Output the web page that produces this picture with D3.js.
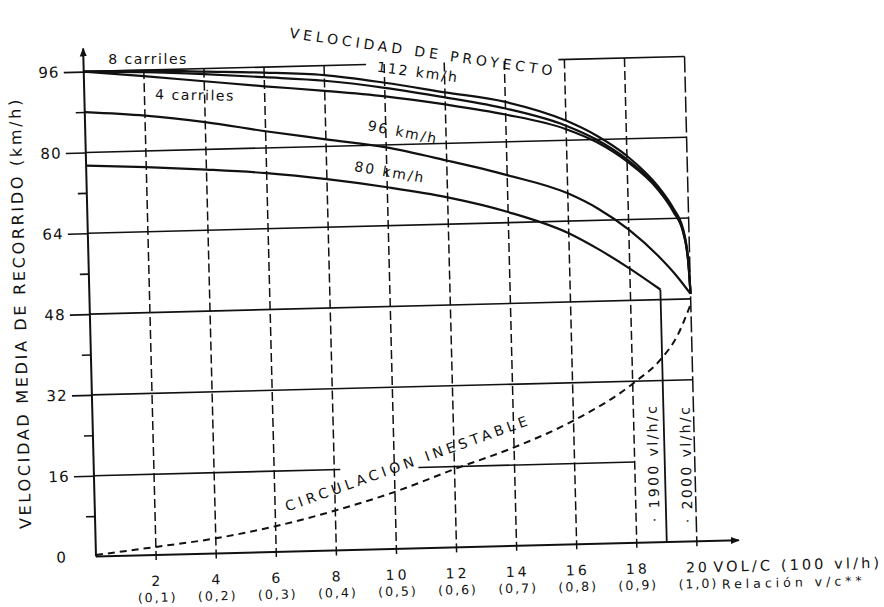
<!DOCTYPE html>
<html><head><meta charset="utf-8">
<script src="https://cdn.jsdelivr.net/npm/d3@7"></script>
<style>
body{margin:0;background:#fff}
svg{display:block;background:#fff}
text{font-family:"DejaVu Sans",sans-serif;fill:#111}
</style>
</head><body>
<svg id="c" width="884" height="607"></svg>
<script>
// ---------- DATA ----------
const xTicks = [2,4,6,8,10,12,14,16,18,20];
const xSubLabels = ["(0,1)","(0,2)","(0,3)","(0,4)","(0,5)","(0,6)","(0,7)","(0,8)","(0,9)","(1,0)"];
const yTicks = [0,16,32,48,64,80,96];
const yMinorTicks = [8,24,40,56,72,88];

// 112 km/h curves (8, 6, 4 carriles)
const x112 = [0,2,4,6,8,10,12,14,16,17,18,19,19.5,19.8,19.95,20];
const v112_8 = [96,95.9,95.4,94.9,94.1,92.3,90.1,87.9,83.9,80.8,76.6,70.5,66.0,62.0,56.0,49];
const v112_6 = [96,95.6,94.9,94.0,93.0,91.3,89.1,86.6,82.9,80.0,75.9,70.1,65.6,61.6,55.5,49];
const v112_4 = [96,94.8,93.5,92.2,91.0,89.6,87.7,85.4,82.2,79.5,75.5,69.8,65.3,61.3,55.3,49];
// 96 km/h
const x96 = [0,2,4,6,8,10,12,14,16,17,18,19,19.5,20];
const v96 = [88,87,85.4,83.3,81.4,79.5,76.6,73.4,69.5,66.3,62.0,56.4,53.0,49];
// 80 km/h
const x80 = [0,2,4,6,8,10,12,14,16,17,18,19];
const v80 = [77.4,76.8,76.0,75.0,73.5,71.6,69.3,66.1,61.6,58.2,54.3,50];
// Circulación inestable (dashed)
const xInest = [0,2,4,6,8,10,12,14,16,18,19,19.5,20];
const vInest = [0.3,1.6,3.0,5.1,7.9,11.3,15.5,19.5,24.5,31.5,36.5,40.5,47];

// horizontal reference lines (value, segments along VOL/C)
const hLines = [
  {v:96, segs:[[0,9.4],[15.8,20]]},
  {v:80, segs:[[0,20]]},
  {v:64, segs:[[0,20]]},
  {v:48, segs:[[0,20]]},
  {v:32, segs:[[0,20]]},
  {v:16, segs:[[0,8.2],[10.8,18]]}
];

// ---------- LAYOUT ----------
const originX = 96, originY = 556.5, plotW = 601, plotH = 485, tilt = -1.45;
const ink = "#111";
const x = d3.scaleLinear().domain([0,20]).range([0,plotW]);
const y = d3.scaleLinear().domain([0,96]).range([plotH,0]);

const svg = d3.select("#c");
const defs = svg.append("defs");
defs.append("marker").attr("id","arr").attr("viewBox","0 0 10 10")
  .attr("refX",9).attr("refY",5).attr("markerWidth",9).attr("markerHeight",9)
  .attr("markerUnits","userSpaceOnUse").attr("orient","auto")
  .append("path").attr("d","M0,1 L10,5 L0,9 Z").attr("fill",ink);

const g = svg.append("g")
  .attr("transform",`translate(${originX},${originY}) rotate(${tilt}) translate(0,${-plotH})`);

// vertical grid lines
g.selectAll("line.vg").data(xTicks).join("line").attr("class","vg")
  .attr("x1",d=>x(d)).attr("x2",d=>x(d))
  .attr("y1",y(96)).attr("y2",y(0)+5)
  .attr("stroke",ink).attr("stroke-width",1.5)
  .attr("stroke-dasharray",d=>d===20?"16,4":"9,4");

// horizontal grid lines
hLines.forEach(h=>{
  h.segs.forEach(s=>{
    g.append("line").attr("x1",x(s[0])).attr("x2",x(s[1]))
      .attr("y1",y(h.v)).attr("y2",y(h.v))
      .attr("stroke",ink).attr("stroke-width",1.6);
  });
});

// vertical at 1900 vl/h/c (end of 80 km/h curve)
g.append("line").attr("x1",x(x80[x80.length-1])).attr("x2",x(x80[x80.length-1]))
  .attr("y1",y(v80[v80.length-1])).attr("y2",y(0))
  .attr("stroke",ink).attr("stroke-width",1.8);

// axes lines
g.append("line").attr("x1",x(0)).attr("x2",x(0)).attr("y1",y(0)).attr("y2",y(100.6))
  .attr("stroke",ink).attr("stroke-width",2).attr("marker-end","url(#arr)");
g.append("line").attr("x1",x(0)).attr("x2",x(21.4)).attr("y1",y(0)).attr("y2",y(0))
  .attr("stroke",ink).attr("stroke-width",2).attr("marker-end","url(#arr)");

// y axis ticks & labels
const yAx = g.append("g").call(d3.axisLeft(y).tickValues(yTicks).tickSize(20).tickPadding(4));
yAx.select(".domain").remove();
yAx.selectAll(".tick line").attr("stroke",ink).attr("stroke-width",1.6)
  .filter(d=>d===0).remove();
yAx.selectAll(".tick text").attr("font-size",15).attr("letter-spacing",1.2)
  .attr("font-family","DejaVu Sans").attr("fill",ink);
yAx.selectAll(".tick").filter(d=>d===0).select("text").attr("x",-29);
const yMin = g.append("g").call(d3.axisLeft(y).tickValues(yMinorTicks).tickSize(9).tickFormat(""));
yMin.select(".domain").remove();
yMin.selectAll(".tick line").attr("stroke",ink).attr("stroke-width",1.6);

// x axis labels
const xAx = g.append("g").attr("transform",`translate(0,${y(0)})`)
  .call(d3.axisBottom(x).tickValues(xTicks).tickSize(0).tickPadding(21));
xAx.select(".domain").remove();
xAx.selectAll(".tick text").attr("font-size",14).attr("letter-spacing",3)
  .attr("font-family","DejaVu Sans").attr("fill",ink);
xAx.selectAll(".tick").append("text")
  .attr("y",38).attr("dy","0.71em").attr("font-size",12.5).attr("letter-spacing",2)
  .attr("font-family","DejaVu Sans").attr("fill",ink).attr("text-anchor","middle")
  .text((d,i)=>xSubLabels[i]);

g.append("text").attr("x",x(20)+16).attr("y",y(0)+31)
  .attr("font-size",14.5).attr("letter-spacing",3.1).text("VOL/C (100 vl/h)");
g.append("text").attr("x",x(20)+24).attr("y",y(0)+48)
  .attr("font-size",12.5).attr("letter-spacing",4).text("Relación v/c**");

// curves
const line = d3.line().x(d=>x(d[0])).y(d=>y(d[1])).curve(d3.curveMonotoneX);
const zip = (xs,vs)=>xs.map((v,i)=>[v,vs[i]]);
[[x112,v112_8],[x112,v112_6],[x112,v112_4],[x96,v96],[x80,v80]].forEach(([xs,vs])=>{
  g.append("path").attr("d",line(zip(xs,vs))).attr("fill","none")
    .attr("stroke",ink).attr("stroke-width",2.2);
});
g.append("path").attr("d",line(zip(xInest,vInest))).attr("fill","none")
  .attr("stroke",ink).attr("stroke-width",2).attr("stroke-dasharray","7,5");

// ---------- ANNOTATIONS (screen placed) ----------
const ann = svg.append("g");
function label(txt,cx,cy,ang,size,ls){
  ann.append("text").attr("transform",`translate(${cx},${cy}) rotate(${ang})`)
    .attr("text-anchor","middle").attr("dy","0.36em")
    .attr("font-size",size).attr("letter-spacing",ls).text(txt);
}
label("VELOCIDAD MEDIA DE RECORRIDO (km/h)",20,313,-91.45,16,2.7);
label("VELOCIDAD DE PROYECTO",423,52,8.2,14,4);
label("CIRCULACION INESTABLE",408,463,-19.7,14,4);
label("112 km/h",418,72,7.7,14,2);
label("96 km/h",403,132,11,14,2);
label("80 km/h",390,172,9.5,14,2);
label("8 carriles",148,59,0,14,1.5);
label("4 carriles",195,95,1,14,1.5);
label("· 1900 vl/h/c",653,463,-91.45,14,2.4);
label("· 2000 vl/h/c",686,464,-91.45,14,2.4);
</script>
</body></html>
